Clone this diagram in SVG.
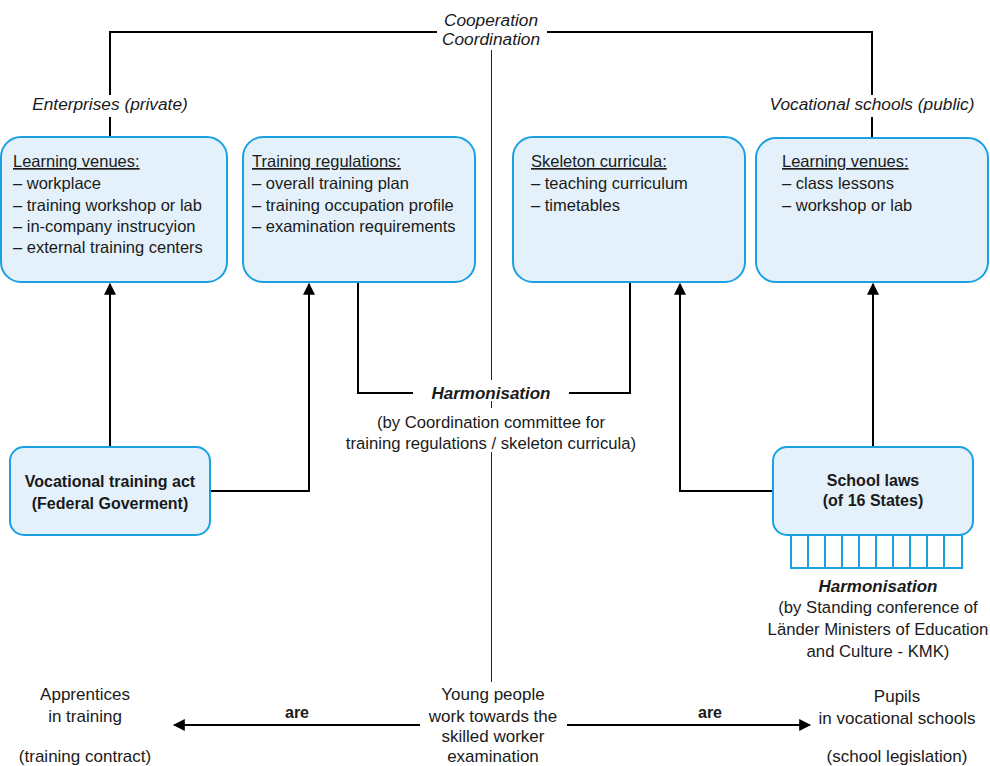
<svg xmlns="http://www.w3.org/2000/svg" width="990" height="766" viewBox="0 0 990 766">
  <style>
    .box { fill: #E4F1FB; stroke: #1BA1E2; stroke-width: 2; }
    .comb { fill: #FFFFFF; stroke: #1BA1E2; stroke-width: 2; }
    .t { font-family: "Liberation Sans", Arial, sans-serif; font-size: 16.5px; fill: #1a1a1a; }
    .tb { font-family: "Liberation Sans", Arial, sans-serif; font-size: 16px; fill: #1a1a1a; font-weight: bold; }
    .it { font-family: "Liberation Sans", Arial, sans-serif; font-size: 17.3px; fill: #1a1a1a; font-style: italic; }
    .bi { font-family: "Liberation Sans", Arial, sans-serif; font-size: 17px; fill: #1a1a1a; font-style: italic; font-weight: bold; }
    .s { font-family: "Liberation Sans", Arial, sans-serif; font-size: 16.7px; fill: #1a1a1a; }
    .n { font-family: "Liberation Sans Narrow", "Arial Narrow", "Liberation Sans", sans-serif; font-size: 17px; fill: #1a1a1a; }
    .nb { font-family: "Liberation Sans Narrow", "Arial Narrow", "Liberation Sans", sans-serif; font-size: 16px; fill: #1a1a1a; font-weight: bold; }
    .c { text-anchor: middle; }
    .head { text-decoration: underline; text-decoration-color: #666; }
    .ln { fill: none; stroke: #000; stroke-width: 2; }
    .axis { fill: none; stroke: #222; stroke-width: 1; }
  </style>
  <defs>
    <marker id="arr" viewBox="0 0 10 10" refX="9" refY="5" markerWidth="6" markerHeight="6" orient="auto">
      <path d="M0,0 L10,5 L0,10 z" fill="#000"/>
    </marker>
  </defs>

  <!-- central axis -->
  <g id="axis">
    <line class="axis" x1="491.5" y1="50" x2="491.5" y2="380"/>
    <line class="axis" x1="491.5" y1="401" x2="491.5" y2="408"/>
    <line class="axis" x1="491.5" y1="452" x2="491.5" y2="682"/>
  </g>

  <g id="connectors">
    <!-- cooperation / coordination bracket -->
    <polyline class="ln" points="110,95 110,32 437,32"/>
    <line class="ln" x1="110" y1="117" x2="110" y2="137"/>
    <polyline class="ln" points="547,32 872,32 872,95"/>
    <line class="ln" x1="872" y1="117" x2="872" y2="138"/>
    <!-- harmonisation bracket -->
    <polyline class="ln" points="358,282 358,393 413,393"/>
    <polyline class="ln" points="569,393 630,393 630,282"/>
    <!-- federal act arrows -->
    <line class="ln" x1="110" y1="447" x2="110" y2="284" marker-end="url(#arr)"/>
    <polyline class="ln" points="210,491 309,491 309,284" marker-end="url(#arr)"/>
    <!-- school law arrows -->
    <line class="ln" x1="873" y1="447" x2="873" y2="284" marker-end="url(#arr)"/>
    <polyline class="ln" points="773,491 680,491 680,284" marker-end="url(#arr)"/>
    <!-- bottom arrows -->
    <line class="ln" x1="420" y1="725" x2="174" y2="725" marker-end="url(#arr)"/>
    <line class="ln" x1="567" y1="725" x2="810" y2="725" marker-end="url(#arr)"/>
  </g>

  <g id="labels">
    <text class="it c" x="491" y="26">Cooperation</text>
    <text class="it c" x="491" y="45">Coordination</text>
    <text class="it c" x="110" y="110">Enterprises (private)</text>
    <text class="it c" x="872" y="110">Vocational schools (public)</text>
    <text class="bi c" x="491" y="399">Harmonisation</text>
    <text class="s c" x="491" y="428">(by Coordination committee for</text>
    <text class="s c" x="491" y="449">training regulations / skeleton curricula)</text>
    <text class="bi c" x="878" y="592">Harmonisation</text>
    <text class="s c" x="878" y="613">(by Standing conference of</text>
    <text class="s c" x="878" y="635">Länder Ministers of Education</text>
    <text class="s c" x="878" y="657">and Culture - KMK)</text>
  </g>

  <g id="venues-enterprise">
    <rect class="box" x="1" y="137" width="226" height="145" rx="20"/>
    <text class="t head" x="13" y="167">Learning venues:</text>
    <text class="t" x="13" y="189">– workplace</text>
    <text class="t" x="13" y="211">– training workshop or lab</text>
    <text class="t" x="13" y="232">– in-company instrucyion</text>
    <text class="t" x="13" y="253">– external training centers</text>
  </g>

  <g id="training-regulations">
    <rect class="box" x="243" y="137" width="232" height="145" rx="20"/>
    <text class="t head" x="252" y="167">Training regulations:</text>
    <text class="t" x="252" y="189">– overall training plan</text>
    <text class="t" x="252" y="211">– training occupation profile</text>
    <text class="t" x="252" y="232">– examination requirements</text>
  </g>

  <g id="skeleton-curricula">
    <rect class="box" x="513" y="137" width="232" height="145" rx="20"/>
    <text class="t head" x="531" y="167">Skeleton curricula:</text>
    <text class="t" x="531" y="189">– teaching curriculum</text>
    <text class="t" x="531" y="211">– timetables</text>
  </g>

  <g id="venues-school">
    <rect class="box" x="756" y="138" width="232" height="144" rx="20"/>
    <text class="t head" x="782" y="167">Learning venues:</text>
    <text class="t" x="782" y="189">– class lessons</text>
    <text class="t" x="782" y="211">– workshop or lab</text>
  </g>

  <g id="training-act">
    <rect class="box" x="10" y="447" width="200" height="88" rx="14"/>
    <text class="tb c" x="110" y="487">Vocational training act</text>
    <text class="tb c" x="110" y="509">(Federal Goverment)</text>
  </g>

  <g id="school-laws">
    <rect class="comb" x="791" y="535" width="171" height="33"/>
    <path class="comb" d="M808,535V568M825,535V568M842,535V568M859,535V568M876,535V568M893,535V568M910,535V568M927,535V568M944,535V568"/>
    <rect class="box" x="773" y="447" width="200" height="88" rx="14"/>
    <text class="tb c" x="873" y="486">School laws</text>
    <text class="tb c" x="873" y="506">(of 16 States)</text>
  </g>

  <g id="apprentices">
    <text class="n c" x="85" y="700">Apprentices</text>
    <text class="n c" x="85" y="722">in training</text>
    <text class="n c" x="85" y="762">(training contract)</text>
  </g>

  <g id="young-people">
    <text class="n c" x="493" y="700">Young people</text>
    <text class="n c" x="493" y="722">work towards the</text>
    <text class="n c" x="493" y="742">skilled worker</text>
    <text class="n c" x="493" y="762">examination</text>
  </g>

  <g id="pupils">
    <text class="n c" x="897" y="702">Pupils</text>
    <text class="n c" x="897" y="724">in vocational schools</text>
    <text class="n c" x="897" y="762">(school legislation)</text>
  </g>

  <g id="edge-labels">
    <text class="nb c" x="297" y="718">are</text>
    <text class="nb c" x="710" y="718">are</text>
  </g>
</svg>
